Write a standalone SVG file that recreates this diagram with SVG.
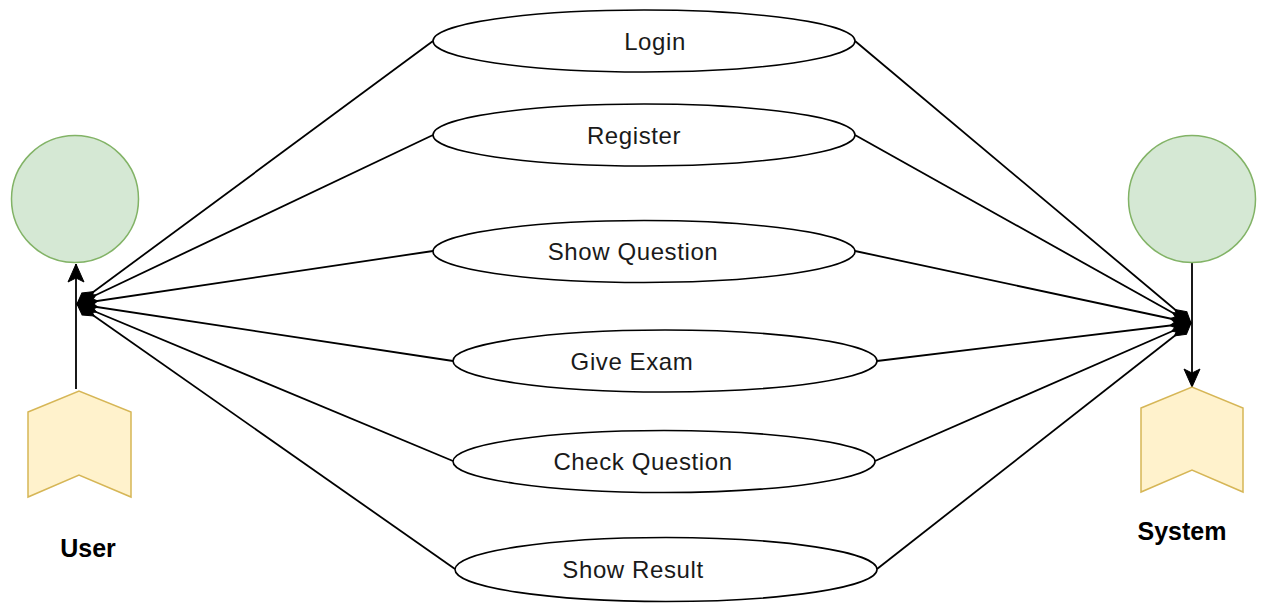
<svg xmlns="http://www.w3.org/2000/svg" width="1265" height="606" viewBox="0 0 1265 606">
  <style>
    .usecase { fill: #ffffff; stroke: #000000; stroke-width: 1.6; }
    .uclabel { font-family: "Liberation Sans", Arial, sans-serif; font-size: 24px; letter-spacing: 0.6px; fill: #1a1a1a; text-anchor: middle; }
    .head { fill: #d5e8d4; stroke: #82b366; stroke-width: 1.5; }
    .body { fill: #fff2cc; stroke: #d6b656; stroke-width: 1.5; }
    .actorlabel { font-family: "Liberation Sans", Arial, sans-serif; font-size: 25px; font-weight: bold; fill: #000000; text-anchor: middle; }
    .link { fill: none; stroke: #000000; stroke-width: 1.8; }
  </style>
  <defs>
    <marker id="diamond" markerUnits="userSpaceOnUse" markerWidth="24" markerHeight="16" viewBox="0 0 24 16" refX="22" refY="8" orient="auto">
      <path d="M1,8 L11.5,2 L22,8 L11.5,14 Z" fill="#000000" stroke="#000000" stroke-width="1"/>
    </marker>
    <marker id="arrow" markerUnits="userSpaceOnUse" markerWidth="20" markerHeight="18" viewBox="0 0 20 18" refX="19" refY="9" orient="auto">
      <path d="M19,9 L1,1 L5,9 L1,17 Z" fill="#000000" stroke="#000000" stroke-width="1"/>
    </marker>
  </defs>

  <rect x="0" y="0" width="1265" height="606" fill="#ffffff"/>

  <!-- connectors -->
  <g id="connectors">
    <line class="link" x1="433" y1="41" x2="77" y2="304" marker-end="url(#diamond)"/>
    <line class="link" x1="433" y1="135" x2="77" y2="304" marker-end="url(#diamond)"/>
    <line class="link" x1="433" y1="251" x2="77" y2="304" marker-end="url(#diamond)"/>
    <line class="link" x1="453" y1="361" x2="77" y2="304" marker-end="url(#diamond)"/>
    <line class="link" x1="453" y1="461" x2="77" y2="304" marker-end="url(#diamond)"/>
    <line class="link" x1="455" y1="569" x2="77" y2="304" marker-end="url(#diamond)"/>

    <line class="link" x1="855" y1="41" x2="1191" y2="323" marker-end="url(#diamond)"/>
    <line class="link" x1="855" y1="135" x2="1191" y2="323" marker-end="url(#diamond)"/>
    <line class="link" x1="855" y1="251" x2="1191" y2="323" marker-end="url(#diamond)"/>
    <line class="link" x1="877" y1="361" x2="1191" y2="323" marker-end="url(#diamond)"/>
    <line class="link" x1="875" y1="461" x2="1191" y2="323" marker-end="url(#diamond)"/>
    <line class="link" x1="877" y1="569" x2="1191" y2="323" marker-end="url(#diamond)"/>

    <line class="link" x1="76" y1="389" x2="76" y2="264" marker-end="url(#arrow)"/>
    <line class="link" x1="1192" y1="263" x2="1192" y2="387" marker-end="url(#arrow)"/>
  </g>

  <!-- use cases -->
  <g id="login">
    <ellipse class="usecase" cx="644" cy="41" rx="211" ry="31"/>
    <text class="uclabel" x="655" y="49.5">Login</text>
  </g>
  <g id="register">
    <ellipse class="usecase" cx="644" cy="135" rx="211" ry="31"/>
    <text class="uclabel" x="634" y="143.5">Register</text>
  </g>
  <g id="show-question">
    <ellipse class="usecase" cx="644" cy="251.5" rx="211" ry="31"/>
    <text class="uclabel" x="633" y="260">Show Question</text>
  </g>
  <g id="give-exam">
    <ellipse class="usecase" cx="665" cy="361" rx="212" ry="31"/>
    <text class="uclabel" x="632" y="369.5">Give Exam</text>
  </g>
  <g id="check-question">
    <ellipse class="usecase" cx="664" cy="461.5" rx="211" ry="31"/>
    <text class="uclabel" x="643" y="470">Check Question</text>
  </g>
  <g id="show-result">
    <ellipse class="usecase" cx="666" cy="569.5" rx="211" ry="32"/>
    <text class="uclabel" x="633" y="578">Show Result</text>
  </g>

  <!-- actors -->
  <g id="user">
    <circle class="head" cx="75" cy="199" r="63.5"/>
    <polygon class="body" points="28,412 79,391 131,412 131,497 79,475 28,497"/>
    <text class="actorlabel" x="88" y="557">User</text>
  </g>
  <g id="system">
    <circle class="head" cx="1192" cy="199" r="63.5"/>
    <polygon class="body" points="1141,408 1192,387 1243,408 1243,492 1192,470 1141,492"/>
    <text class="actorlabel" x="1182" y="540">System</text>
  </g>
</svg>
